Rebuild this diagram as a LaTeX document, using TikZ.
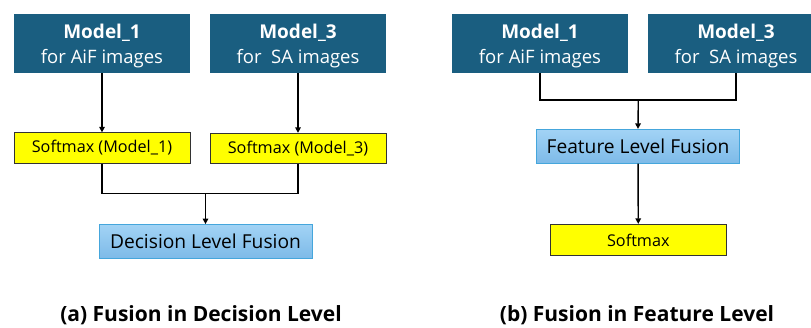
\documentclass[tikz,border=0pt]{standalone}
\usepackage{fontspec}
\setmainfont{Open Sans}
\usetikzlibrary{arrows.meta}
\definecolor{modelblue}{HTML}{1A5E80}
\definecolor{softyellow}{HTML}{FFFF00}
\definecolor{fusiontop}{HTML}{A2D3F5}
\definecolor{fusionbot}{HTML}{7DBAE8}
\definecolor{fusionedge}{HTML}{45A6DC}
% two-line caption of a model box: bold name over a regular subtitle
\newcommand{\modeltext}[2]{\fontsize{18.5}{25}\selectfont
  \begin{tabular}{@{}c@{}}{\fontsize{19}{25}\selectfont\bfseries #1}\\ #2\end{tabular}}
\begin{document}
\begin{tikzpicture}[x=1pt,y=-1pt,
  model/.style={rectangle, fill=modelblue, text=white, inner sep=0pt,
    minimum width=176pt, minimum height=59pt},
  softbox/.style={rectangle, fill=softyellow, draw=black!80, line width=0.8pt,
    inner sep=0pt, minimum width=176pt, minimum height=30.5pt,
    font=\fontsize{16.2}{18}\selectfont},
  fusionbox/.style={rectangle, top color=fusiontop, bottom color=fusionbot,
    draw=fusionedge, line width=0.8pt, inner sep=0pt, minimum height=34pt,
    font=\fontsize{19.2}{21}\selectfont},
  caption/.style={font=\fontsize{21}{23}\selectfont\bfseries},
  link/.style={line width=1.4pt, black},
  flow/.style={link, -{Triangle[length=5.5pt,width=5.5pt]}}]
\clip (0,0) rectangle (811,327);
\fill[white] (0,0) rectangle (811,327);

% (a) decision level fusion
\node[model, label={[yshift=-2pt, text=white]center:\modeltext{Model\_1}{for AiF images}}] (m1) at (102,43.5) {};
\node[model, label={[yshift=-2pt, text=white]center:\modeltext{Model\_3}{for\ \ SA images}}] (m3) at (298,43.5) {};
\node[softbox] (s1) at (102,148) {Softmax (Model\_1)};
\node[softbox] (s3) at (298,148.5) {Softmax (Model\_3)};
\node[fusionbox, minimum width=213pt] (dec) at (205.5,241.5) {Decision Level Fusion};
\coordinate (ja) at (205.5,193.3);
\draw[flow] (m1) -- (s1);
\draw[flow] (m3) -- (s3);
\draw[link] (s1.south) |- (ja) -| (s3.south);
\draw[flow] (ja) -- (dec.north);
\node[caption] (capa) at (201,315) {(a) Fusion in Decision Level};

% (b) feature level fusion
\node[model, label={[yshift=-2pt, text=white]center:\modeltext{Model\_1}{for AiF images}}] (r1) at (540,43.5) {};
\node[model, label={[yshift=-2pt, text=white]center:\modeltext{Model\_3}{for\ \ SA images}}] (r3) at (736,43.5) {};
\node[fusionbox, minimum width=202.6pt] (feat) at (638,146.3) {Feature Level Fusion};
\node[softbox, minimum width=175.3pt, minimum height=31.4pt] (soft) at (638.3,240) {Softmax};
\coordinate (jb) at (638.3,100);
\draw[link] (r1.south) |- (jb) -| (r3.south);
\draw[flow] (jb) -- (feat.north);
\draw[flow] (feat) -- (soft);
\node[caption] (capb) at (637,315) {(b) Fusion in Feature Level};
\end{tikzpicture}
\end{document}
